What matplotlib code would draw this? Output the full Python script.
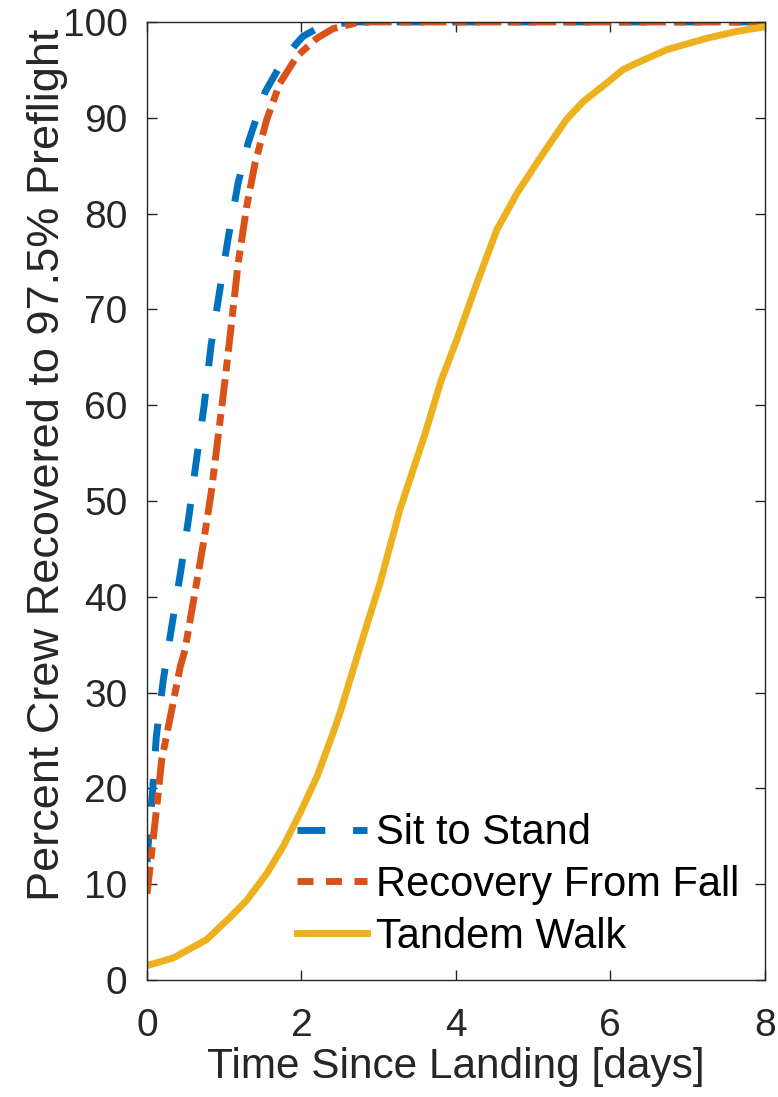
import matplotlib
matplotlib.use('Agg')
import matplotlib.pyplot as plt
from matplotlib.lines import Line2D

plt.rcParams['font.family'] = ['Liberation Sans', 'DejaVu Sans']

# Sit to Stand (blue, dashed)
sit_x = [0.0, 0.01, 0.07, 0.12, 0.21, 0.32, 0.435, 0.544, 0.64, 0.74, 0.83, 0.936,
         1.05, 1.18, 1.31, 1.53, 1.72, 1.92, 2.02, 2.2, 2.45, 2.7, 3.0, 8.0]
sit_y = [12.3, 13.6, 19.5, 25.4, 31.3, 36.9, 42.6, 48.5, 54.3, 60.0, 66.3, 71.7,
         77.4, 83.2, 87.4, 92.7, 95.4, 97.6, 98.5, 99.3, 99.8, 100.0, 100.0, 100.0]

# Recovery From Fall (red, dash-dot)
fall_x = [0.0, 0.06, 0.125, 0.19, 0.32, 0.43, 0.49, 0.6, 0.73, 0.835, 0.92, 1.01,
          1.1, 1.18, 1.29, 1.4, 1.55, 1.72, 1.94, 2.2, 2.41, 2.71, 2.9, 8.0]
fall_y = [9.0, 13.3, 18.0, 23.0, 28.2, 32.7, 34.4, 39.5, 45.6, 51.1, 56.7, 62.6,
          69.0, 74.8, 80.7, 85.3, 89.8, 93.6, 96.4, 98.3, 99.3, 99.9, 100.0, 100.0]

# Tandem Walk (yellow, solid)
walk_x = [0.0, 0.34, 0.77, 1.07, 1.29, 1.55, 1.76, 1.98, 2.2, 2.41, 2.5, 2.76, 3.02,
          3.275, 3.6, 3.81, 4.01, 4.27, 4.53, 4.79, 5.09, 5.43, 5.65, 5.95, 6.16,
          6.34, 6.73, 7.25, 7.63, 8.0]
walk_y = [1.5, 2.3, 4.2, 6.5, 8.3, 11.1, 13.9, 17.4, 21.2, 25.8, 27.9, 34.8, 41.5,
          49.1, 57.0, 62.6, 66.8, 72.7, 78.3, 82.1, 85.8, 89.8, 91.7, 93.6, 95.0,
          95.7, 97.1, 98.3, 99.0, 99.5]

labels = ['Sit to Stand', 'Recovery From Fall', 'Tandem Walk']
colors = ['#0072BD', '#D95319', '#EDB120']
x_ticks = [0, 2, 4, 6, 8]
y_ticks = [0, 10, 20, 30, 40, 50, 60, 70, 80, 90, 100]


def main():
    fig = plt.figure(figsize=(7.78, 10.97), dpi=100)
    ax = fig.add_axes([0.189, 0.1067, 0.794, 0.8733])

    lw = 5
    ax.plot(sit_x, sit_y, color=colors[0], lw=lw, dashes=(4, 4))
    ax.plot(fall_x, fall_y, color=colors[1], lw=lw, dashes=(3.9, 1.15, 1.7, 1.15))
    ax.plot(walk_x, walk_y, color=colors[2], lw=lw)

    ax.set_xlim(0, 8)
    ax.set_ylim(0, 100)
    ax.set_xticks(x_ticks)
    ax.set_yticks(y_ticks)

    dark = '#262626'
    for s in ax.spines.values():
        s.set_color(dark)
        s.set_linewidth(1.0)
    ax.tick_params(direction='in', length=7, width=1, colors=dark,
                   labelsize=28, top=True, right=True)
    ax.tick_params(axis='y', pad=14)
    ax.tick_params(axis='x', pad=20)
    ax.set_xlabel('Time Since Landing [days]', fontsize=30.5, color=dark, labelpad=2)
    ax.set_ylabel('Percent Crew Recovered to 97.5% Preflight', fontsize=32.5,
                  color=dark)
    ax.yaxis.set_label_coords(-0.128, 0.5376)

    # legend proxies (the legend shows plain short dashes for the red line)
    handles = [Line2D([], [], color=colors[0], lw=lw, dashes=(4, 4)),
               Line2D([], [], color=colors[1], lw=lw, dashes=(2.3, 1.8)),
               Line2D([], [], color=colors[2], lw=lw)]
    ax.legend(handles, labels, loc='lower left', bbox_to_anchor=(0.215, 0.007),
              frameon=False, fontsize=30, handlelength=1.68, handletextpad=0.22,
              labelspacing=0.28, borderaxespad=0)

    fig.savefig('out.png', dpi=100)


if __name__ == "__main__":
    main()
